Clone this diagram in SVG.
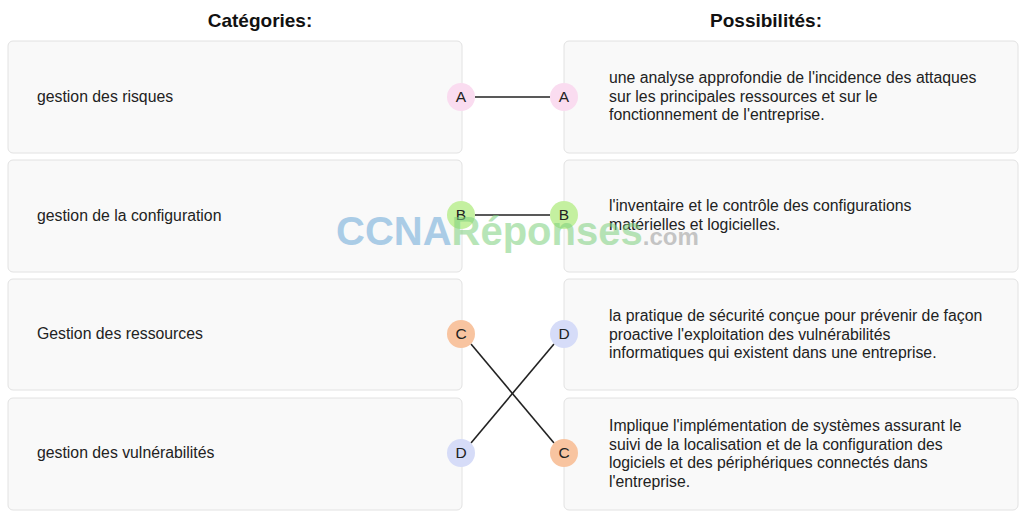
<svg xmlns="http://www.w3.org/2000/svg" width="1024" height="516" viewBox="0 0 1024 516">
<style>
.box{fill:#f9f9f9;stroke:#e2e2e2;stroke-width:1}
.t{font-family:"Liberation Sans",Arial,sans-serif;font-size:15.8px;fill:#222}
.h{font-family:"Liberation Sans",Arial,sans-serif;font-size:19px;font-weight:bold;fill:#111;text-anchor:middle}
.l{font-family:"Liberation Sans",Arial,sans-serif;font-size:15.5px;fill:#222;text-anchor:middle}
.c{stroke:#222;stroke-width:1.6;fill:none}
.a{fill:#fadcf0}.b{fill:#c4f0a0}.cc{fill:#f8c4a0}.d{fill:#d6dcf8}
</style>
<rect width="1024" height="516" fill="#fff"/>
<text class="h" x="260" y="27">Catégories:</text>
<text class="h" x="766" y="27">Possibilités:</text>
<g id="L1"><rect class="box" x="8" y="41" width="454" height="112" rx="5"/><text class="t" x="37" y="102">gestion des risques</text></g>
<g id="L2"><rect class="box" x="8" y="160" width="454" height="112" rx="5"/><text class="t" x="37" y="221">gestion de la configuration</text></g>
<g id="L3"><rect class="box" x="8" y="279" width="454" height="111" rx="5"/><text class="t" x="37" y="339">Gestion des ressources</text></g>
<g id="L4"><rect class="box" x="8" y="398" width="454" height="112" rx="5"/><text class="t" x="37" y="458">gestion des vulnérabilités</text></g>
<g id="R1"><rect class="box" x="564" y="41" width="454" height="112" rx="5"/><text class="t" x="609" y="83">une analyse approfondie de l'incidence des attaques<tspan x="609" dy="18.5">sur les principales ressources et sur le</tspan><tspan x="609" dy="18.5">fonctionnement de l'entreprise.</tspan></text></g>
<g id="R2"><rect class="box" x="564" y="160" width="454" height="112" rx="5"/><text class="t" x="609" y="211">l'inventaire et le contrôle des configurations<tspan x="609" dy="18.5">matérielles et logicielles.</tspan></text></g>
<g id="R3"><rect class="box" x="564" y="279" width="454" height="111" rx="5"/><text class="t" x="609" y="321">la pratique de sécurité conçue pour prévenir de façon<tspan x="609" dy="18.5">proactive l'exploitation des vulnérabilités</tspan><tspan x="609" dy="18.5">informatiques qui existent dans une entreprise.</tspan></text></g>
<g id="R4"><rect class="box" x="564" y="398" width="454" height="112" rx="5"/><text class="t" x="609" y="431">Implique l'implémentation de systèmes assurant le<tspan x="609" dy="18.5">suivi de la localisation et de la configuration des</tspan><tspan x="609" dy="18.5">logiciels et des périphériques connectés dans</tspan><tspan x="609" dy="18.5">l'entreprise.</tspan></text></g>
<g id="connectors">
<line class="c" x1="475" y1="97" x2="550" y2="97"/>
<line class="c" x1="475" y1="215" x2="550" y2="215"/>
<line class="c" x1="471" y1="344" x2="554" y2="443"/>
<line class="c" x1="471" y1="443" x2="554" y2="344"/>
</g>
<g id="badges">
<circle class="a" cx="461" cy="97" r="14"/><text class="l" x="461" y="102">A</text>
<circle class="a" cx="564" cy="97" r="14"/><text class="l" x="564" y="102">A</text>
<circle class="b" cx="461" cy="215" r="14"/><text class="l" x="461" y="220">B</text>
<circle class="b" cx="564" cy="215" r="14"/><text class="l" x="564" y="220">B</text>
<circle class="cc" cx="461" cy="334" r="14"/><text class="l" x="461" y="339">C</text>
<circle class="d" cx="564" cy="334" r="14"/><text class="l" x="564" y="339">D</text>
<circle class="d" cx="461" cy="453" r="14"/><text class="l" x="461" y="458">D</text>
<circle class="cc" cx="564" cy="453" r="14"/><text class="l" x="564" y="458">C</text>
</g>
<g id="watermark" font-family="Liberation Sans,Arial,sans-serif" font-weight="bold" opacity="0.55">
<text x="336" y="245" font-size="40"><tspan fill="#6aa8d8">CCNA</tspan><tspan fill="#7ed07e">Réponses</tspan><tspan fill="#999" font-size="24">.com</tspan></text>
</g>
</svg>
